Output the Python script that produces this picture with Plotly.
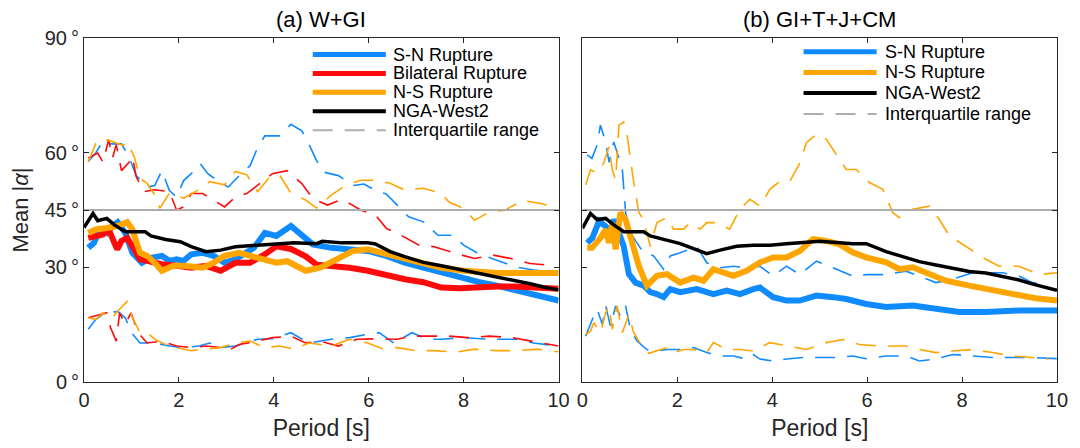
import plotly.graph_objects as go
from plotly.subplots import make_subplots

# ---------------- data: panel (a) W+GI ----------------
a_sn_T = [0.09,0.21,0.33,0.48,0.6,0.71,0.87,1.02,1.22,1.41,1.64,1.8,1.95,2.1,2.26,2.5,2.73,2.96,3.19,3.43,3.58,3.81,4.05,4.36,4.59,4.82,5.21,5.6,5.98,6.37,6.76,7.15,7.53,8.0,8.31,8.7,9.09,9.47,10.0]
a_sn_V = [35.1,36.4,39.9,39.0,40.8,41.8,39.0,33.8,31.2,32.5,33.0,31.7,32.1,31.7,33.4,33.8,33.0,31.2,32.1,33.8,35.1,39.0,38.2,40.8,38.2,36.0,35.1,34.7,34.3,33.0,31.2,29.9,28.6,26.9,26.2,25.2,24.1,22.7,21.3]

a_bi_T = [0.09,0.25,0.4,0.52,0.6,0.7,0.79,0.91,1.02,1.18,1.33,1.64,1.95,2.26,2.57,2.88,3.19,3.5,3.81,4.05,4.36,4.67,4.9,5.21,5.6,5.98,6.37,6.76,7.15,7.53,7.92,8.31,8.7,9.09,9.47,10.0]
a_bi_V = [37.7,38.0,38.6,39.9,37.3,34.7,36.9,37.7,35.5,32.1,31.7,30.8,30.4,29.9,30.4,29.1,31.2,31.2,33.4,35.5,34.8,32.9,30.7,30.5,29.9,29.1,27.8,26.9,26.1,24.7,24.5,24.8,25.0,25.0,24.8,24.4]

a_ns_T = [0.09,0.25,0.48,0.71,0.91,1.02,1.18,1.33,1.49,1.64,1.88,2.1,2.5,2.73,2.96,3.27,3.66,4.05,4.28,4.67,4.98,5.36,5.67,5.98,6.37,6.76,7.53,8.0,8.7,9.47,10.0]
a_ns_V = [39.0,39.9,40.3,40.8,41.8,39.9,33.8,33.0,31.2,29.1,30.4,30.4,29.9,31.2,33.0,33.8,32.5,31.2,31.6,29.1,29.9,32.1,34.3,34.7,33.4,32.1,29.9,29.1,28.5,28.5,28.5]

a_nga_T = [0.0,0.19,0.29,0.48,0.64,0.87,1.02,1.29,1.41,1.72,2.03,2.26,2.57,2.88,3.19,3.66,4.12,4.43,4.9,5.02,5.44,5.98,6.14,6.45,6.76,7.15,7.53,8.0,8.31,8.7,9.09,9.4,9.7,10.0]
a_nga_V = [40.4,44.1,42.2,42.8,41.1,39.3,39.3,39.3,38.2,37.3,36.7,35.4,34.1,34.5,35.4,35.8,36.1,36.4,36.2,36.8,36.4,36.4,36.1,34.1,32.8,31.3,30.4,29.2,28.5,27.6,26.6,25.7,24.8,24.1]

# interquartile range (upper / lower) panel (a)
a_sn_up_T = [0.09,0.25,0.4,0.56,0.79,0.95,1.1,1.33,1.49,1.64,1.8,1.95,2.1,2.26,2.45,2.61,2.81,3.04,3.27,3.5,3.66,3.81,4.12,4.36,4.59,4.74,4.9,5.05,5.36,5.67,5.9,6.14,6.37,6.6,6.84,7.15,7.46,7.77,8.0,8.31,8.7,9.09,9.47,10.0]
a_sn_up_V = [57.7,60.0,63.0,62.3,62.3,58.8,54.0,51.0,51.4,55.3,50.1,48.4,52.7,54.5,57.1,54.5,52.7,51.0,54.0,56.6,61.4,64.4,64.4,67.4,65.7,62.2,57.9,54.9,54.0,51.4,51.8,50.1,49.2,46.2,43.2,41.9,38.4,38.4,35.8,33.6,31.9,30.1,29.3,28.8]
a_bi_up_T = [0.09,0.29,0.4,0.52,0.6,0.68,0.79,0.95,1.02,1.1,1.26,1.49,1.8,1.95,2.1,2.26,2.5,2.73,2.96,3.19,3.43,3.66,3.97,4.28,4.59,4.82,5.13,5.44,5.83,6.14,6.37,6.68,7.06,7.38,7.84,8.23,8.62,9.0,9.4,9.86]
a_bi_up_V = [58.6,59.9,57.5,63.4,58.6,62.1,55.3,57.5,59.0,53.7,49.8,50.3,49.8,45.0,45.8,49.3,49.3,47.6,45.8,48.4,49.3,51.5,54.5,55.3,51.9,48.0,46.3,47.8,45.0,43.7,40.2,38.4,35.8,35.4,33.6,32.3,33.2,32.3,31.0,30.5]
a_ns_up_T = [0.09,0.25,0.4,0.64,0.83,0.91,1.06,1.18,1.33,1.49,1.6,1.8,2.1,2.42,2.65,2.96,3.19,3.43,3.66,3.89,4.12,4.36,4.67,4.9,5.21,5.52,5.83,6.14,6.45,6.76,7.15,7.53,7.69,8.0,8.23,8.54,8.86,9.24,9.63,10.0]
a_ns_up_V = [57.6,62.4,63.7,62.8,61.9,62.8,58.9,53.3,52.0,49.0,45.5,49.4,48.1,50.3,52.4,51.6,55.1,54.2,49.8,53.3,54.2,49.4,47.6,45.5,48.9,51.5,52.8,52.8,52.0,50.2,50.7,49.3,47.1,45.4,42.3,44.5,44.9,47.5,46.7,45.2]

a_sn_lo_T = [0.09,0.25,0.4,0.71,0.87,1.0,1.18,1.49,1.8,2.1,2.42,2.65,2.88,3.19,3.66,3.97,4.36,4.74,5.21,5.6,5.98,6.22,6.53,6.91,7.22,7.53,8.0,8.54,9.09,9.47,10.0]
a_sn_lo_V = [13.8,16.4,17.7,18.5,16.8,12.9,10.2,10.2,9.4,9.0,9.4,10.2,9.0,9.4,11.2,11.3,12.9,10.2,11.2,11.6,12.5,12.9,10.2,12.9,11.2,11.2,11.6,11.2,11.2,10.2,9.4]
a_bi_lo_T = [0.09,0.33,0.48,0.56,0.68,0.75,0.87,0.99,1.14,1.33,1.64,1.95,2.26,2.57,2.88,3.04,3.27,3.66,3.97,4.36,4.67,4.98,5.36,5.75,6.14,6.6,6.91,7.3,7.69,8.08,8.54,9.02,9.4,10.0]
a_bi_lo_V = [16.8,17.7,18.1,14.2,10.7,18.1,15.1,18.1,12.9,10.2,10.7,9.4,9.0,9.4,9.0,8.2,9.8,10.7,11.6,12.0,10.2,10.7,9.4,11.2,11.3,11.2,12.0,12.0,12.0,11.6,12.0,11.6,10.7,9.4]
a_ns_lo_T = [0.09,0.25,0.4,0.56,0.71,0.91,1.02,1.18,1.33,1.49,1.72,1.95,2.26,2.57,2.88,3.19,3.5,3.81,4.12,4.43,4.74,5.21,5.6,5.98,6.29,6.6,6.99,7.38,7.84,8.23,8.7,9.09,9.55,10.0]
a_ns_lo_V = [16.8,16.4,18.1,16.4,18.5,21.1,16.8,12.9,12.9,11.2,9.8,9.0,8.2,8.6,9.0,10.2,10.7,9.0,9.4,8.6,10.2,9.4,11.2,10.2,8.7,9.0,8.2,8.2,7.8,8.6,8.2,8.2,8.6,7.9]

# ---------------- data: panel (b) GI+T+J+CM ----------------
b_sn_T = [0.1,0.21,0.35,0.49,0.56,0.66,0.77,0.87,0.98,1.12,1.29,1.43,1.57,1.71,1.85,2.06,2.41,2.76,3.04,3.32,3.6,3.74,4.02,4.3,4.58,4.93,5.28,5.56,5.98,6.4,6.96,7.45,7.94,8.5,9.2,10.0]
b_sn_V = [36.4,37.7,42.1,40.7,38.6,42.5,39.0,35.5,28.2,26.0,25.2,23.5,23.0,22.2,24.3,23.5,24.3,23.0,23.9,23.0,24.3,24.7,22.2,21.3,21.3,22.6,22.2,21.7,20.4,19.6,20.0,19.2,18.3,18.3,18.7,18.7]

b_ns_T = [0.1,0.2,0.38,0.49,0.56,0.63,0.7,0.8,0.91,1.05,1.19,1.36,1.57,1.78,2.06,2.34,2.55,2.76,2.97,3.18,3.46,3.74,4.02,4.3,4.58,4.86,5.14,5.42,5.7,5.98,6.4,6.68,6.96,7.24,7.66,8.15,8.85,9.55,10.0]
b_ns_V = [35.1,35.1,37.7,39.9,36.4,41.6,34.7,44.3,42.5,36.4,30.3,25.2,27.8,28.2,26.0,27.3,26.5,29.5,28.6,27.8,29.1,31.3,32.6,32.6,34.3,37.4,36.9,36.0,33.9,32.6,31.3,29.5,30.0,28.6,26.5,25.2,23.5,21.9,21.3]

b_nga_T = [0.0,0.17,0.31,0.49,0.66,0.87,1.08,1.29,1.43,1.71,2.06,2.34,2.62,2.9,3.25,3.6,3.95,4.3,4.65,5.0,5.35,5.7,5.98,6.4,6.75,7.1,7.45,7.8,8.15,8.5,8.85,9.2,9.55,10.0]
b_nga_V = [40.2,44.1,42.5,42.8,41.1,39.3,39.3,39.3,38.2,37.3,36.2,34.9,33.6,34.5,35.5,35.8,35.8,36.2,36.4,36.8,36.5,36.2,36.2,34.1,32.8,31.5,30.6,29.7,28.9,28.5,27.6,26.7,25.4,24.0]

b_sn_up_T = [0.1,0.2,0.31,0.38,0.49,0.56,0.66,0.84,0.91,1.01,1.15,1.29,1.5,1.71,1.85,2.06,2.41,2.62,2.9,3.18,3.46,3.74,4.02,4.3,4.58,4.93,5.28,5.7,5.98,6.4,6.82,7.1,7.45,7.8,8.22,8.5,8.85,9.2,9.48,9.83]
b_sn_up_V = [59.4,58.5,62.0,67.2,62.8,57.5,62.8,55.8,44.3,39.0,36.4,33.8,33.0,29.5,33.0,33.8,35.5,31.2,29.9,30.3,29.9,30.3,27.7,30.3,28.1,31.6,29.9,27.7,28.1,28.1,29.0,27.7,26.0,26.9,28.6,28.6,28.6,27.7,26.0,25.2]
b_ns_up_T = [0.07,0.17,0.31,0.45,0.56,0.63,0.7,0.77,0.87,0.94,1.08,1.19,1.29,1.43,1.57,1.78,1.92,2.13,2.27,2.48,2.62,2.83,3.1,3.32,3.53,3.74,3.95,4.16,4.37,4.58,4.72,4.93,5.14,5.28,5.56,5.77,6.05,6.33,6.54,6.68,6.96,7.31,7.52,7.73,8.08,8.5,8.78,9.2,9.62,10.0]
b_ns_up_V = [51.6,55.5,54.7,57.3,61.6,55.5,52.9,67.2,68.0,64.6,52.4,44.3,42.5,35.5,41.7,43.0,40.0,40.0,41.7,40.0,41.7,41.7,40.0,45.2,47.8,46.0,50.4,52.5,52.5,57.3,62.6,64.8,63.5,60.9,55.6,55.6,52.2,50.4,44.3,43.0,45.2,46.0,42.5,38.3,35.5,32.1,30.3,30.3,28.1,28.6]

b_sn_lo_T = [0.07,0.21,0.31,0.42,0.49,0.59,0.7,0.8,0.91,1.01,1.15,1.36,1.57,1.78,2.06,2.34,2.62,2.9,3.18,3.46,3.6,3.74,4.02,4.3,4.65,5.0,5.35,5.7,5.98,6.4,6.82,7.1,7.45,7.8,8.22,8.64,9.06,9.48,10.0]
b_sn_lo_V = [12.0,16.4,19.0,15.1,19.9,14.6,19.9,17.2,19.9,13.8,10.7,8.5,8.1,8.5,8.5,9.0,7.7,6.8,6.8,6.0,7.2,6.0,5.5,6.0,6.4,6.4,6.4,6.8,6.1,6.8,6.8,5.5,6.0,7.2,6.8,6.4,6.4,6.4,6.1]
b_ns_lo_T = [0.07,0.17,0.24,0.38,0.49,0.56,0.63,0.73,0.84,0.98,1.08,1.26,1.4,1.57,1.78,1.92,2.13,2.34,2.62,2.76,3.04,3.32,3.6,3.95,4.3,4.72,5.14,5.49,5.84,6.26,6.54,6.82,7.1,7.45,7.8,8.22,8.64,9.06,9.48,9.83]
b_ns_lo_V = [12.5,13.3,15.5,12.9,18.1,19.9,13.8,19.9,12.9,17.7,12.9,9.4,7.5,8.1,9.0,7.7,8.5,8.5,7.7,10.3,8.5,8.5,8.1,10.3,9.4,8.5,10.3,11.1,9.8,9.4,9.4,9.4,8.5,7.7,8.1,8.5,7.7,6.8,6.4,6.0]

x_ticks = [0, 2, 4, 6, 8, 10]
y_ticks = [0, 30, 45, 60, 90]
y_tick_labels = ["0\u2009°", "30\u2009°", "45\u2009°", "60\u2009°", "90\u2009°"]
panel_titles = ["(a) W+GI", "(b) GI+T+J+CM"]
legend_a = ["S-N Rupture", "Bilateral Rupture", "N-S Rupture", "NGA-West2", "Interquartile range"]
legend_b = ["S-N Rupture", "N-S Rupture", "NGA-West2", "Interquartile range"]

BLUE = "#0F8BFF"
RED = "#FF0A0A"
ORANGE = "#FFA500"
BLACK = "#000000"
GRAY = "#ADADAD"
TXT = "#262626"
FONT = "Liberation Sans, Arial, sans-serif"
DASH = "20px,12px"
THICK = 6
NGAW = 3.5

fig = make_subplots(rows=1, cols=2, horizontal_spacing=0.0245)

def dashed(T, V, color, col):
    fig.add_trace(go.Scatter(x=T, y=V, mode="lines", showlegend=False, hoverinfo="skip",
                             line=dict(color=color, width=1.6, dash=DASH)), row=1, col=col)

for T, V, c in [(a_sn_up_T, a_sn_up_V, BLUE), (a_bi_up_T, a_bi_up_V, RED), (a_ns_up_T, a_ns_up_V, ORANGE),
                (a_sn_lo_T, a_sn_lo_V, BLUE), (a_bi_lo_T, a_bi_lo_V, RED), (a_ns_lo_T, a_ns_lo_V, ORANGE)]:
    dashed(T, V, c, 1)
for T, V, c in [(b_sn_up_T, b_sn_up_V, BLUE), (b_ns_up_T, b_ns_up_V, ORANGE),
                (b_sn_lo_T, b_sn_lo_V, BLUE), (b_ns_lo_T, b_ns_lo_V, ORANGE)]:
    dashed(T, V, c, 2)

# 45 degree reference line
for col in (1, 2):
    fig.add_trace(go.Scatter(x=[0, 10], y=[45, 45], mode="lines", showlegend=False, hoverinfo="skip",
                             line=dict(color=GRAY, width=2)), row=1, col=col)

def main(T, V, color, width, col):
    fig.add_trace(go.Scatter(x=T, y=V, mode="lines", showlegend=False,
                             line=dict(color=color, width=width)), row=1, col=col)

main(a_sn_T, a_sn_V, BLUE, THICK, 1)
main(a_bi_T, a_bi_V, RED, THICK, 1)
main(a_ns_T, a_ns_V, ORANGE, THICK, 1)
main(a_nga_T, a_nga_V, BLACK, NGAW, 1)
main(b_sn_T, b_sn_V, BLUE, THICK, 2)
main(b_ns_T, b_ns_V, ORANGE, THICK, 2)
main(b_nga_T, b_nga_V, BLACK, NGAW, 2)

axis_common = dict(showline=True, linecolor=TXT, linewidth=1, mirror="ticks", ticks="inside",
                   ticklen=5, tickcolor=TXT, showgrid=False, zeroline=False,
                   tickfont=dict(family=FONT, size=20, color=TXT))
for col in (1, 2):
    fig.update_xaxes(range=[0, 10], tickvals=x_ticks, title_text="Period [s]",
                     title_font=dict(family=FONT, size=23, color=TXT), title_standoff=9,
                     row=1, col=col, **axis_common)
    fig.update_yaxes(range=[0, 90], tickvals=y_ticks, ticktext=y_tick_labels,
                     showticklabels=(col == 1), row=1, col=col, **axis_common)
fig.update_yaxes(title_text="Mean |<i>α</i>|", title_font=dict(family=FONT, size=22, color=TXT),
                 title_standoff=10, row=1, col=1)

# legends drawn inside each panel (line keys + labels)
def legend(labels, colors, widths, rows_y, x0, x1, xt, axn):
    for lab, c, w, yy in zip(labels, colors, widths, rows_y):
        dash = DASH if lab == "Interquartile range" else "solid"
        fig.add_shape(type="line", xref=f"x{axn} domain", yref=f"y{axn} domain",
                      x0=x0, x1=x1, y0=yy, y1=yy, line=dict(color=c, width=w, dash=dash))
        fig.add_annotation(text=lab, xref=f"x{axn} domain", yref=f"y{axn} domain", x=xt, y=yy,
                           xanchor="left", yanchor="middle", showarrow=False, borderpad=0,
                           font=dict(family=FONT, size=18, color="#000000"))

legend(legend_a, [BLUE, RED, ORANGE, BLACK, GRAY], [5, 5, 5, 4, 2],
       [0.952, 0.897, 0.842, 0.787, 0.732], 0.482, 0.636, 0.650, "")
legend(legend_b, [BLUE, ORANGE, BLACK, GRAY], [5, 5, 4, 2],
       [0.960, 0.900, 0.840, 0.779], 0.466, 0.620, 0.636, "2")

for i, t in enumerate(panel_titles):
    fig.add_annotation(text=t, x=0.5, y=1.0, xref=("x domain" if i == 0 else "x2 domain"),
                       yref="paper", xanchor="center", yanchor="bottom",
                       yshift=4, showarrow=False, font=dict(family=FONT, size=22, color="#000000"))

fig.update_layout(width=1080, height=448, margin=dict(l=84, r=15, t=38, b=65),
                  paper_bgcolor="white", plot_bgcolor="white", font=dict(family=FONT),
                  showlegend=False)

fig.write_html("out.html", config={"displayModeBar": False},
               post_script="document.body.style.margin='0';document.body.style.overflow='hidden';")
